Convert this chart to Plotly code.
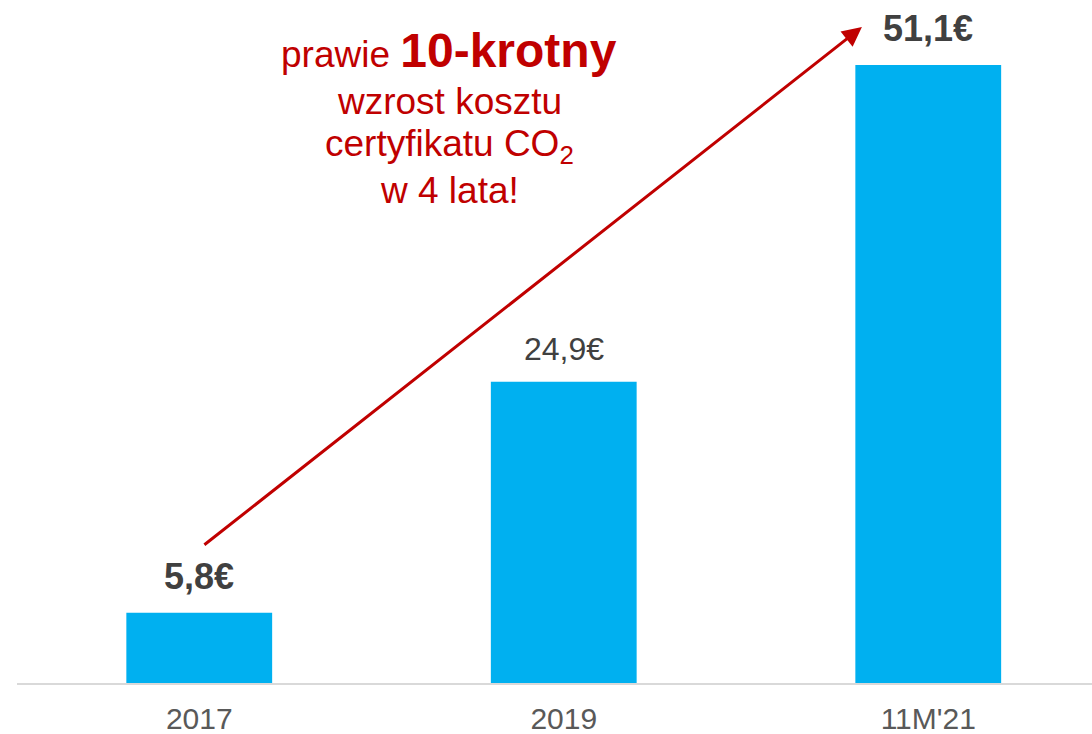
import plotly.graph_objects as go

categories = ["2017", "2019", "11M'21"]
values = [5.8, 24.9, 51.1]
bold_flags = [True, False, True]

BAR = "#00B0F0"
RED = "#C00000"
FONT = "Liberation Sans, Arial, sans-serif"

W, H = 1092, 734
ml, mr, mt, mb = 17, 0, 10, 51
plot_w = W - ml - mr
px_per_cat = 364.5
x_hi = plot_w / px_per_cat - 0.5
plot_h = H - mt - mb
y_hi = plot_h / 618 * 51.1

fig = go.Figure()
fig.add_trace(go.Bar(
    x=list(range(len(categories))), y=values, marker=dict(color=BAR, line=dict(width=0)),
    width=0.40, hoverinfo="skip",
))

def label(v, b):
    s = f"{v:.1f}".replace(".", ",") + "€"
    return f"<b>{s}</b>" if b else s

for i, (v, b) in enumerate(zip(values, bold_flags)):
    fig.add_annotation(
        x=i, y=v, xref="x", yref="y", text=label(v, b), showarrow=False,
        yanchor="bottom", yshift=14 if b else 13,
        font=dict(family=FONT, size=36 if b else 32, color="#404040"),
    )

# arrow
fig.add_annotation(
    x=1.818, y=54.24, ax=0.010, ay=11.33, xref="x", yref="y", axref="x", ayref="y",
    text="", showarrow=True, arrowhead=2, arrowsize=1.3, arrowwidth=3, arrowcolor=RED,
)

# text lines
fig.add_annotation(
    x=449, y=734 - 50, xref="paper", yref="paper", showarrow=False,
    text="prawie <b><span style='font-size:48px'>10-krotny</span></b>",
    font=dict(family=FONT, size=37, color=RED), xanchor="center", yanchor="middle",
)
lines = ["wzrost kosztu", "certyfikatu CO<sub>2</sub>", "w 4 lata!"]
ys = [102, 146, 190]
for t, yy in zip(lines, ys):
    fig.add_annotation(
        x=449, y=734 - yy, xref="paper", yref="paper", showarrow=False, text=t,
        font=dict(family=FONT, size=37, color=RED), xanchor="center", yanchor="middle",
    )

# convert paper-pixel annotations
for a in fig.layout.annotations:
    if a.xref == "paper":
        a.x = (a.x - ml) / plot_w
        a.y = (a.y - mb) / plot_h

fig.update_layout(
    width=W, height=H, margin=dict(l=ml, r=mr, t=mt, b=mb),
    plot_bgcolor="white", paper_bgcolor="white", showlegend=False,
    xaxis=dict(range=[-0.5, x_hi], showgrid=False, zeroline=False,
               tickmode="array", tickvals=list(range(len(categories))), ticktext=categories,
               showline=True, linecolor="#D9D9D9", linewidth=2,
               ticks="", ticklabelstandoff=8,
               tickfont=dict(family=FONT, size=30, color="#595959")),
    yaxis=dict(range=[0, y_hi], visible=False),
)
fig.write_html("out.html", config={"displayModeBar": False, "staticPlot": True},
               post_script="document.body.style.margin='0';document.body.style.overflow='hidden';")
